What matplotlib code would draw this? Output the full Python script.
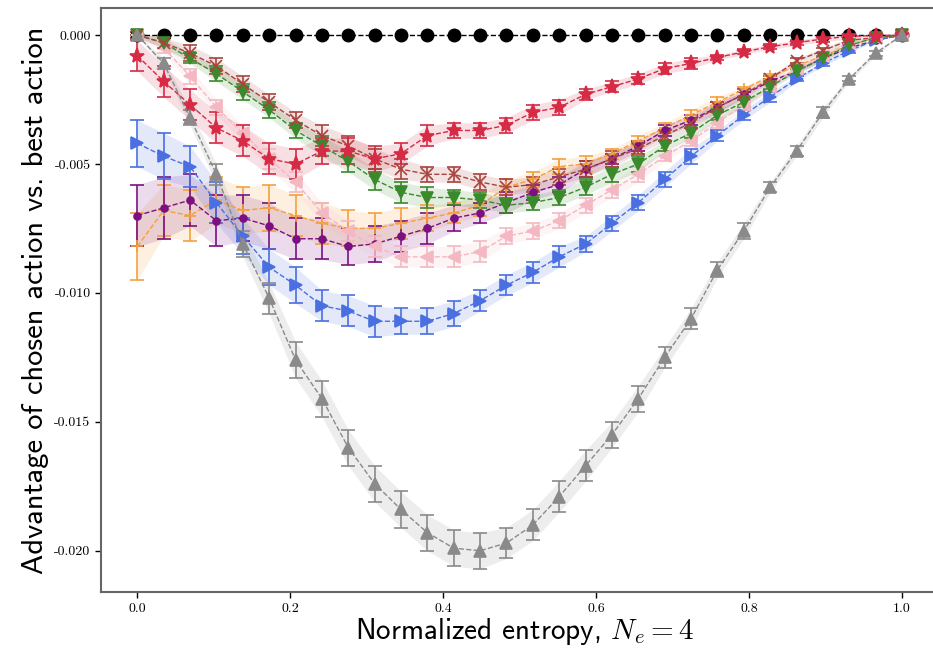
import numpy as np
import matplotlib
matplotlib.use("Agg")
import matplotlib.pyplot as plt

plt.rcParams['mathtext.fontset'] = 'cm'

# ---------------- data ----------------
entropy = np.linspace(0.0, 1.0, 30)

black_vals = [0.0] * 30

gray_vals = [0.0, -0.0011, -0.0032, -0.0054, -0.0081, -0.0102, -0.0126, -0.0141, -0.0160, -0.0174,
             -0.0184, -0.0193, -0.0199, -0.0200, -0.0197, -0.0190, -0.0179, -0.0167, -0.0155, -0.0141,
             -0.0125, -0.0110, -0.0091, -0.0076, -0.0059, -0.0045, -0.0030, -0.0017, -0.0007, 0.0]
gray_err = [0.0, 0.0002, 0.0003, 0.0004, 0.0005, 0.0006, 0.0007, 0.0007, 0.0007, 0.0007,
            0.0007, 0.0007, 0.0007, 0.0007, 0.0006, 0.0006, 0.0006, 0.0006, 0.0005, 0.0005,
            0.0004, 0.0004, 0.0003, 0.0003, 0.0002, 0.0002, 0.0002, 0.0001, 0.0001, 0.0]

red_vals = [-0.0008, -0.0018, -0.0027, -0.0036, -0.0041, -0.0048, -0.0050, -0.0045, -0.0045, -0.0048,
            -0.0046, -0.0039, -0.0037, -0.0037, -0.0035, -0.0030, -0.0028, -0.0023, -0.0020, -0.0017,
            -0.0013, -0.0011, -0.00087, -0.00065, -0.00045, -0.0003, -0.00015, -0.00005, -0.00002, 0.0]
red_err = [0.0006, 0.0006, 0.0006, 0.0006, 0.0006, 0.0006, 0.0006, 0.0005, 0.0005, 0.0005,
           0.0004, 0.0004, 0.0003, 0.0003, 0.0003, 0.0003, 0.0003, 0.0002, 0.0002, 0.0002,
           0.0002, 0.0002, 0.0001, 0.0001, 0.0001, 0.0001, 0.0001, 0.0001, 0.0, 0.0]

brown_vals = [0.0, -0.0003, -0.0007, -0.0012, -0.0019, -0.0026, -0.0033, -0.0039, -0.0043, -0.0048,
              -0.0052, -0.0054, -0.0054, -0.0057, -0.0059, -0.0058, -0.0055, -0.0052, -0.0048, -0.0044,
              -0.0039, -0.0034, -0.0028, -0.0023, -0.0017, -0.0010, -0.0006, -0.0002, -0.0001, 0.0]
brown_err = [0.0001, 0.0002, 0.0003, 0.0003, 0.0003, 0.0003, 0.0003, 0.0004, 0.0004, 0.0004,
             0.0004, 0.0003, 0.0003, 0.0003, 0.0003, 0.0003, 0.0003, 0.0003, 0.0003, 0.0002,
             0.0002, 0.0002, 0.0002, 0.0002, 0.0001, 0.0001, 0.0001, 0.0001, 0.0, 0.0]

green_vals = [0.0, -0.0003, -0.0009, -0.0015, -0.0022, -0.0029, -0.0037, -0.0043, -0.0049, -0.0056,
              -0.0061, -0.0063, -0.0063, -0.0064, -0.0066, -0.0065, -0.0063, -0.0059, -0.0054, -0.0050,
              -0.0043, -0.0038, -0.0031, -0.0026, -0.0020, -0.0014, -0.0009, -0.0004, -0.0001, 0.0]
green_err = [0.0001, 0.0002, 0.0002, 0.0003, 0.0003, 0.0003, 0.0003, 0.0004, 0.0004, 0.0004,
             0.0004, 0.0004, 0.0003, 0.0003, 0.0003, 0.0003, 0.0003, 0.0003, 0.0003, 0.0003,
             0.0002, 0.0002, 0.0002, 0.0002, 0.0001, 0.0001, 0.0001, 0.0001, 0.0, 0.0]

pink_vals = [0.0, -0.0005, -0.0016, -0.0028, -0.0038, -0.0048, -0.0057, -0.0069, -0.0076, -0.0082,
             -0.0086, -0.0086, -0.0086, -0.0084, -0.0078, -0.0076, -0.0072, -0.0066, -0.0060, -0.0054,
             -0.0047, -0.0041, -0.0034, -0.0027, -0.0020, -0.0013, -0.0008, -0.0003, -0.0001, 0.0]
pink_err = [0.0001, 0.0002, 0.0003, 0.0003, 0.0003, 0.0004, 0.0004, 0.0004, 0.0004, 0.0004,
            0.0004, 0.0004, 0.0004, 0.0004, 0.0003, 0.0003, 0.0003, 0.0003, 0.0003, 0.0003,
            0.0002, 0.0002, 0.0002, 0.0002, 0.0001, 0.0001, 0.0001, 0.0001, 0.0, 0.0]

blue_vals = [-0.0042, -0.0047, -0.0051, -0.0065, -0.0078, -0.0090, -0.0097, -0.0105, -0.0107, -0.0111,
             -0.0111, -0.0111, -0.0108, -0.0103, -0.0097, -0.0092, -0.0086, -0.0081, -0.0073, -0.0065,
             -0.0056, -0.0047, -0.0039, -0.0031, -0.0024, -0.0017, -0.0011, -0.0006, -0.0002, 0.0]
blue_err = [0.0009, 0.0009, 0.0008, 0.0008, 0.0007, 0.0007, 0.0007, 0.0006, 0.0006, 0.0006,
            0.0005, 0.0005, 0.0005, 0.0004, 0.0004, 0.0004, 0.0004, 0.0003, 0.0003, 0.0003,
            0.0003, 0.0003, 0.0002, 0.0002, 0.0002, 0.0001, 0.0001, 0.0001, 0.0, 0.0]

purple_vals = [-0.0070, -0.0067, -0.0064, -0.0072, -0.0071, -0.0074, -0.0079, -0.0079, -0.0082, -0.0081,
               -0.0078, -0.0075, -0.0071, -0.0069, -0.0065, -0.0061, -0.0058, -0.0052, -0.0048, -0.0043,
               -0.0037, -0.0033, -0.0028, -0.0023, -0.0018, -0.0014, -0.0009, -0.0005, -0.0002, 0.0]
purple_err = [0.0012, 0.0012, 0.0010, 0.0010, 0.0009, 0.0009, 0.0008, 0.0008, 0.0007, 0.0007,
              0.0006, 0.0006, 0.0005, 0.0004, 0.0004, 0.0003, 0.0003, 0.0003, 0.0002, 0.0002,
              0.0002, 0.0002, 0.0002, 0.0001, 0.0001, 0.0001, 0.0001, 0.0, 0.0, 0.0]

orange_vals = [-0.0082, -0.0068, -0.0070, -0.0064, -0.0068, -0.0067, -0.0070, -0.0073, -0.0075, -0.0075,
               -0.0073, -0.0071, -0.0069, -0.0066, -0.0059, -0.0056, -0.0051, -0.0050, -0.0046, -0.0041,
               -0.0036, -0.0031, -0.0026, -0.0021, -0.0016, -0.0012, -0.0008, -0.0004, -0.0001, 0.0]
orange_err = [0.0013, 0.0010, 0.0010, 0.0009, 0.0009, 0.0009, 0.0008, 0.0008, 0.0007, 0.0006,
              0.0006, 0.0005, 0.0004, 0.0004, 0.0003, 0.0003, 0.0003, 0.0003, 0.0002, 0.0002,
              0.0002, 0.0002, 0.0002, 0.0001, 0.0001, 0.0001, 0.0001, 0.0, 0.0, 0.0]

x_ticks = [0.0, 0.2, 0.4, 0.6, 0.8, 1.0]
x_tick_labels = ['0.0', '0.2', '0.4', '0.6', '0.8', '1.0']
y_ticks = [0.0, -0.005, -0.010, -0.015, -0.020]
y_tick_labels = ['0.000', '-0.005', '-0.010', '-0.015', '-0.020']

# ---------------- plot ----------------
fig = plt.figure(figsize=(9.33, 6.48), dpi=100)
ax = fig.add_axes([101 / 933, (648 - 592) / 648, (948 - 101) / 933, (592 - 8) / 648])

series = [
    (orange_vals, orange_err, '#f5a03c', '+', 9, 1.0),
    (purple_vals, purple_err, '#7b1180', 'o', 5, 1.0),
    (blue_vals, blue_err, '#4a6fe0', '>', 9, 1.0),
    (pink_vals, pink_err, '#f4b8c2', '<', 9, 1.0),
    (green_vals, green_err, '#3a8a2c', 'v', 9, 1.0),
    (brown_vals, brown_err, '#a8433e', 'x', 9, 1.0),
    (red_vals, red_err, '#d62a45', '*', 11, 1.0),
    (gray_vals, gray_err, '#8a8a8a', '^', 9, 1.0),
]

for vals, err, col, mk, ms, a in series:
    v = np.array(vals)
    e = np.array(err)
    ax.fill_between(entropy, v - e, v + e, color=col, alpha=0.15, linewidth=0)
    ax.errorbar(entropy, v, yerr=e, color=col, marker=mk, markersize=ms,
                linestyle='--', linewidth=1.0, elinewidth=1.2, capsize=5,
                capthick=1.2, markeredgewidth=1.2, alpha=a)

ax.plot(entropy, black_vals, color='black', marker='o', markersize=9,
        linestyle='--', linewidth=1.0)

x_left = -0.0475
ax.set_xlim(x_left, 1.0 + (948 - 902) / 765)
ax.set_ylim(-0.0216, 0.00105)
ax.set_xticks(x_ticks)
ax.set_xticklabels(x_tick_labels, family='cmr10', fontsize=10)
ax.set_yticks(y_ticks)
ax.set_yticklabels(y_tick_labels, family='cmr10', fontsize=10)
ax.tick_params(length=4, width=1, color='black')

for s in ax.spines.values():
    s.set_color('#666666')
    s.set_linewidth(1.5)
ax.spines['right'].set_visible(False)

ax.set_xlabel(r'Normalized entropy, $N_e = 4$', family='cmss10', fontsize=21, labelpad=1)
ax.set_ylabel('Advantage of chosen action vs. best action', family='cmss10', fontsize=22, labelpad=4)

fig.savefig('out.png', dpi=100)
